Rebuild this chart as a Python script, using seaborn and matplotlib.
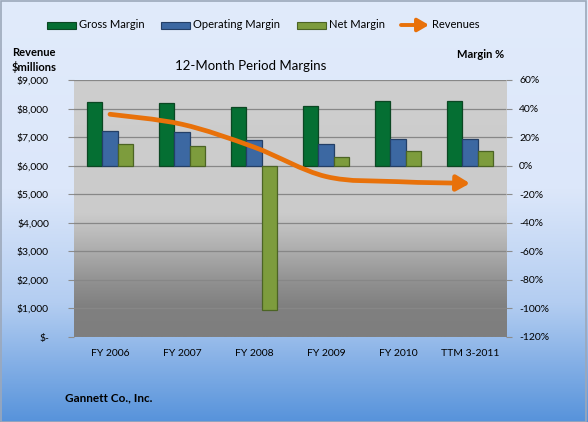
from matplotlib import pyplot as plt
from matplotlib.colors import LinearSegmentedColormap
from matplotlib.patches import FancyArrowPatch, Rectangle
from matplotlib.path import Path
from matplotlib.ticker import FuncFormatter
import pandas as pd
import seaborn as sns
import numpy as np

# Chart data
periods = ['FY 2006', 'FY 2007', 'FY 2008', 'FY 2009', 'FY 2010', 'TTM 3-2011']
metrics = ['Gross Margin', 'Operating Margin', 'Net Margin']
gross_margin = [44.5, 43.8, 41.0, 41.7, 45.2, 45.2]
operating_margin = [24.0, 23.3, 18.0, 15.0, 18.6, 18.6]
net_margin = [15.0, 14.1, -101.0, 6.3, 10.6, 10.1]
revenues = [7800, 7450, 6650, 5620, 5440, 5380]

margin_ticks = list(range(-120, 61, 20))
revenue_ticks = list(range(0, 9001, 1000))

# Colours
bar_colors = {'Gross Margin': '#056f33', 'Operating Margin': '#3c68a2', 'Net Margin': '#7d9c3d'}
edge_colors = ['#0b4723', '#243f66', '#4c6424']
orange = '#e8710a'

W, H = 588, 422


def fx(px):
    """Convert pixel x to figure fraction."""
    return px / W


def fy(py):
    """Convert pixel y (from top) to figure fraction."""
    return 1 - py / H


plt.rcParams['font.family'] = ['Lato', 'DejaVu Sans']

fig = plt.figure(figsize=(W / 100, H / 100), dpi=100)

# Figure background gradient (light blue on top, deeper blue at the bottom)
bg = fig.add_axes([0, 0, 1, 1], zorder=-10)
bg_cmap = LinearSegmentedColormap.from_list('bg', [
    (0.0, '#e1ebfb'), (0.45, '#dce7fa'), (0.72, '#b3cdf1'), (1.0, '#5793db')])
bg.imshow(np.linspace(0, 1, 256).reshape(-1, 1), cmap=bg_cmap, aspect='auto', extent=(0, 1, 0, 1))
bg.axis('off')

# Plot area position
pos = [fx(74), fy(337), (506 - 74) / W, (337 - 80) / H]

# Plot area gray gradient
pbg = fig.add_axes(pos, zorder=-5)
plot_cmap = LinearSegmentedColormap.from_list('plot', [
    (0.0, '#cecece'), (0.52, '#cbcbcb'), (0.64, '#b2b2b2'), (0.8, '#8e8e8e'), (0.88, '#808080'), (1.0, '#7e7e7e')])
pbg.imshow(np.linspace(0, 1, 256).reshape(-1, 1), cmap=plot_cmap, aspect='auto', extent=(0, 1, 0, 1))
pbg.axis('off')

ax = fig.add_axes(pos, zorder=0)
ax.patch.set_alpha(0)

# Margin bars (right axis)
df = pd.DataFrame({
    'period': periods * 3,
    'metric': np.repeat(metrics, len(periods)),
    'margin': gross_margin + operating_margin + net_margin,
})
sns.barplot(data=df, x='period', y='margin', hue='metric', order=periods, hue_order=metrics,
            palette=bar_colors, saturation=1, width=0.65, legend=False, ax=ax, zorder=2)
for container, edge in zip(ax.containers, edge_colors):
    for bar in container:
        bar.set_edgecolor(edge)
        bar.set_linewidth(0.9)

# Revenue axis (left) - created before moving the margin ticks to the right
ax2 = ax.twinx()

ax.set_xlim(-0.5, len(periods) - 0.5)
ax.set_ylim(-120, 60)
ax.set_yticks(margin_ticks)
ax.yaxis.set_major_formatter(FuncFormatter(lambda v, p: f'{v:.0f}%'))
ax.yaxis.tick_right()
ax.set_axisbelow(True)
ax.yaxis.grid(True, color='#878787', linewidth=0.9)
ax.xaxis.grid(False)
ax.set_xlabel('')
ax.set_ylabel('')
ax.tick_params(axis='y', length=4, color='#8c8c8c', pad=5.5, labelsize=7.5)
ax.tick_params(axis='x', length=0, pad=9, labelsize=7.5)
for s in ax.spines.values():
    s.set_visible(False)

ax2.yaxis.tick_left()
ax2.set_ylim(0, 9000)
ax2.set_yticks(revenue_ticks)
ax2.yaxis.set_major_formatter(FuncFormatter(lambda v, p: '$-' if v == 0 else f'${v:,.0f}'))
ax2.tick_params(axis='y', length=4, color='#8c8c8c', pad=14, labelsize=7.5)
for s in ax2.spines.values():
    s.set_visible(False)

# Smooth curve through the revenue points (Catmull-Rom as cubic Bezier)
pts = np.column_stack([np.arange(len(revenues)), revenues]).astype(float)
verts = [pts[0]]
codes = [Path.MOVETO]
for i in range(len(pts) - 1):
    p_prev = pts[max(i - 1, 0)]
    p0 = pts[i]
    p1 = pts[i + 1]
    p_next = pts[min(i + 2, len(pts) - 1)]
    verts += [p0 + (p1 - p_prev) / 6, p1 - (p_next - p0) / 6, p1]
    codes += [Path.CURVE4] * 3
rev_arrow = FancyArrowPatch(path=Path(verts, codes), arrowstyle='-|>,head_length=0.6,head_width=0.35',
                            mutation_scale=13, color=orange, linewidth=3.4, capstyle='round',
                            transform=ax2.transData, zorder=3)
ax2.add_patch(rev_arrow)

# Texts
fig.text(fx(251), fy(66), '12-Month Period Margins', ha='center', va='center', fontsize=9.5)
fig.text(fx(12), fy(52), 'Revenue', ha='left', va='center', fontsize=8, fontweight='bold')
fig.text(fx(12), fy(67), '$millions', ha='left', va='center', fontsize=8, fontweight='bold')
fig.text(fx(457), fy(55), 'Margin %', ha='left', va='center', fontsize=8, fontweight='bold')
fig.text(fx(65), fy(398), 'Gannett Co., Inc.', ha='left', va='center', fontsize=8.5, fontweight='bold')

# Legend drawn by hand
legend_items = [(47, 79, 'Gross Margin'), (161, 193, 'Operating Margin'), (297, 329, 'Net Margin')]
for (x0, xt, name), edge in zip(legend_items, edge_colors):
    fig.add_artist(Rectangle((fx(x0), fy(28.5)), 29 / W, 7 / H, transform=fig.transFigure,
                             facecolor=bar_colors[name], edgecolor=edge, linewidth=0.8))
    fig.text(fx(xt), fy(25), name, ha='left', va='center', fontsize=8)
fig.add_artist(FancyArrowPatch((fx(401), fy(25)), (fx(429), fy(25)), transform=fig.transFigure,
                               arrowstyle='-|>,head_length=0.6,head_width=0.35', mutation_scale=11,
                               color=orange, linewidth=2.8, shrinkA=0, shrinkB=0))
fig.text(fx(432), fy(25), 'Revenues', ha='left', va='center', fontsize=8)

# Outer border
fig.add_artist(Rectangle((0.001, 0.001), 0.996, 0.996, transform=fig.transFigure,
                         fill=False, edgecolor='#9ca8ba', linewidth=1.2))

fig.savefig('out.png', dpi=100)
